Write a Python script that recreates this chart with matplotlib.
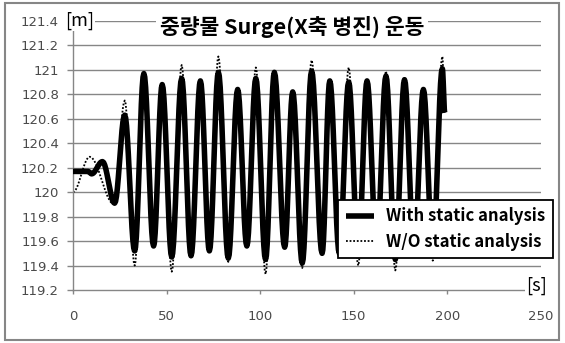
import numpy as np
import matplotlib.pyplot as plt
from matplotlib.patches import Rectangle
from matplotlib.ticker import FuncFormatter

plt.rcParams["font.family"] = ["Noto Sans CJK KR", "DejaVu Sans"]

# extrema: time [s], surge [m]
with_t = [0, 8, 10, 15.8, 22.3, 27.7, 33, 37.9, 43.1, 47.7, 52.8, 58.1, 63.1, 68.1,
          72.9, 77.7, 83, 88, 92.9, 97.7, 102.9, 107.6, 113.1, 117.4, 122.5, 127.5,
          133.1, 137.2, 142.3, 147.3, 152.4, 157.1, 162.2, 167.2, 172.2, 177.1,
          182.2, 187.2, 192.2, 197.3, 198.6]
with_v = [120.17, 120.17, 120.15, 120.25, 119.91, 120.63, 119.52, 120.97, 119.56,
          120.88, 119.47, 120.93, 119.48, 120.91, 119.52, 120.98, 119.46, 120.84,
          119.56, 120.93, 119.45, 120.98, 119.55, 120.82, 119.42, 120.99, 119.50,
          120.91, 119.50, 120.90, 119.48, 120.91, 119.52, 120.95, 119.45, 120.92,
          119.50, 120.84, 119.50, 121.01, 120.65]

wo_t = [0, 9, 22.0, 27.7, 33, 37.9, 43.1, 47.7, 52.8, 58.1, 63.1, 68.1, 72.9, 77.7,
        83, 88, 92.9, 97.7, 102.9, 107.6, 113.1, 117.4, 122.5, 127.5, 133.1, 137.2,
        142.3, 147.3, 152.4, 157.1, 162.2, 167.2, 172.2, 177.1, 182.2, 187.2, 192.2,
        197.3, 198.6]
wo_v = [120.0, 120.29, 119.90, 120.75, 119.40, 120.97, 119.56, 120.88, 119.35,
        121.04, 119.48, 120.91, 119.50, 121.11, 119.43, 120.84, 119.56, 121.02,
        119.33, 120.98, 119.55, 120.82, 119.38, 121.08, 119.50, 120.91, 119.50,
        121.02, 119.40, 120.91, 119.52, 120.99, 119.36, 120.92, 119.50, 120.84,
        119.44, 121.11, 120.65]

xticks = [0, 50, 100, 150, 200, 250]
yticks = [119.2, 119.4, 119.6, 119.8, 120.0, 120.2, 120.4, 120.6, 120.8, 121.0,
          121.2, 121.4]


def smooth(t, v, n=12):
    # rounded path between consecutive extrema
    xs, ys = [t[0]], [v[0]]
    for i in range(len(t) - 1):
        s = np.linspace(0, 1, n)[1:]
        w = (1 - np.cos(np.pi * s)) / 2
        xs.extend(t[i] + (t[i + 1] - t[i]) * s)
        ys.extend(v[i] + (v[i + 1] - v[i]) * w)
    return np.array(xs), np.array(ys)


fig = plt.figure(figsize=(5.65, 3.43), dpi=100)
ax = fig.add_axes([0.129, 0.1545, 0.8285, 0.7843])

grid = "#868686"
ax.set_xlim(0, 250)
ax.set_ylim(119.2, 121.4)
for y in yticks[1:]:
    ax.axhline(y, color=grid, lw=1, zorder=0)

xd, yd = smooth(wo_t, wo_v)
xs, ys = smooth(with_t, with_v)
l2, = ax.plot(xd, yd, color="black", lw=1.3, ls=(0, (1, 1)), zorder=2)
l1, = ax.plot(xs, ys, color="black", lw=4.0, zorder=3, solid_capstyle="butt")

for s in ["top", "right"]:
    ax.spines[s].set_visible(False)
for s in ["left", "bottom"]:
    ax.spines[s].set_color(grid)
    ax.spines[s].set_linewidth(1)

ax.set_xticks(xticks)
ax.set_yticks(yticks)
ax.yaxis.set_major_formatter(FuncFormatter(lambda v, p: "%g" % round(v, 1)))
for lab in ax.get_xticklabels() + ax.get_yticklabels():
    lab.set_family("DejaVu Sans")
ax.tick_params(axis="x", direction="out", length=3, width=1, color=grid,
               labelsize=9.5, labelcolor="#4a4a4a", pad=11.5)
ax.tick_params(axis="y", direction="out", length=4, width=1, color=grid,
               labelsize=9.5, labelcolor="#4a4a4a", pad=6)

ax.text(0.517, 0.921, "중량물 Surge(X축 병진) 운동", transform=fig.transFigure,
        ha="center", va="center", fontsize=15.5, fontweight="bold",
        bbox=dict(facecolor="white", edgecolor="none", pad=3), zorder=5)
ax.text(65 / 565, 1 - 21 / 343, "[m]", transform=fig.transFigure, ha="left",
        va="center", fontsize=13, color="black",
        bbox=dict(facecolor="white", edgecolor="none", pad=0.5), zorder=5)
ax.text(526 / 565, 1 - 286 / 343, "[s]", transform=fig.transFigure, ha="left",
        va="center", fontsize=13, color="black",
        bbox=dict(facecolor="white", edgecolor="none", pad=0.5), zorder=5)

leg = ax.legend([l1, l2], ["With static analysis", "W/O static analysis"],
                loc="center", bbox_to_anchor=(0.7885, 0.332),
                bbox_transform=fig.transFigure, fancybox=False, framealpha=1,
                edgecolor="black", handlelength=1.7, handletextpad=0.7,
                borderpad=0.45, labelspacing=0.45,
                prop=dict(size=12, weight="bold"))
leg.get_frame().set_linewidth(1.3)
leg.set_zorder(6)

fig.patches.append(Rectangle((5 / 565, 3 / 343), 554 / 565, 337 / 343,
                             transform=fig.transFigure, fill=False,
                             edgecolor=grid, lw=1.5))

fig.savefig("out.png", dpi=100)
